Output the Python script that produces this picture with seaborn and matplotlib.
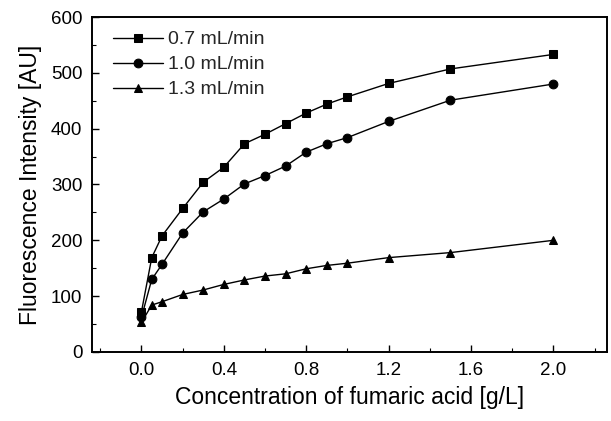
import numpy as np
import pandas as pd
import matplotlib
matplotlib.use("Agg")
import matplotlib.pyplot as plt
from matplotlib.ticker import MultipleLocator, FixedLocator
import seaborn as sns

# Fumaric acid concentration [g/L]
conc = [0.0, 0.05, 0.1, 0.2, 0.3, 0.4, 0.5, 0.6, 0.7, 0.8, 0.9, 1.0, 1.2, 1.5, 2.0]

# Fluorescence intensity [AU] at each flow rate
flow_07 = [72, 169, 208, 257, 304, 331, 373, 390, 409, 428, 444, 457, 481, 507, 533]
flow_10 = [62, 130, 157, 213, 251, 274, 301, 316, 333, 358, 373, 384, 413, 451, 480]
flow_13 = [53, 84, 90, 103, 111, 121, 129, 136, 140, 149, 155, 159, 169, 178, 200]

series_labels = ["0.7 mL/min", "1.0 mL/min", "1.3 mL/min"]
x_ticks = [0.0, 0.4, 0.8, 1.2, 1.6, 2.0]
y_ticks = [0, 100, 200, 300, 400, 500, 600]

df = pd.DataFrame({
    "conc": conc * 3,
    "intensity": flow_07 + flow_10 + flow_13,
    "flow": np.repeat(series_labels, len(conc)),
})

sns.set_theme(style="ticks")
plt.rcParams["font.family"] = ["Liberation Sans", "DejaVu Sans"]

fig = plt.figure(figsize=(6.11, 4.21), dpi=100)
ax = fig.add_axes([0.1506, 0.164, 0.8429, 0.7956])

marker_map = {series_labels[0]: "s", series_labels[1]: "o", series_labels[2]: "^"}
sns.lineplot(
    data=df, x="conc", y="intensity", style="flow", hue="flow",
    palette=["black"] * 3, markers=marker_map, dashes=False,
    markersize=6.3, markeredgecolor="black", linewidth=1.0, ax=ax,
)

ax.set_xlim(-0.24, 2.26)
ax.set_ylim(0, 600)
ax.xaxis.set_major_locator(FixedLocator(x_ticks))
ax.xaxis.set_minor_locator(MultipleLocator(0.2))
ax.yaxis.set_major_locator(FixedLocator(y_ticks))
ax.yaxis.set_minor_locator(MultipleLocator(50))
ax.set_xticklabels([f"{v:.1f}" for v in x_ticks])
ax.set_yticklabels([str(v) for v in y_ticks])

ax.tick_params(which="major", direction="in", length=5, width=1.0, color="black",
               labelsize=13.5, labelcolor="black", pad=7)
ax.tick_params(which="minor", direction="in", length=3, width=0.8, color="black")

for side in ["top", "right", "left", "bottom"]:
    ax.spines[side].set_visible(True)
    ax.spines[side].set_color("black")
    ax.spines[side].set_linewidth(1.4)

ax.set_xlabel("Concentration of fumaric acid [g/L]", fontsize=16.5, color="black", labelpad=5)
ax.set_ylabel("Fluorescence Intensity [AU]", fontsize=16.5, color="black", labelpad=6)

leg = ax.legend(loc="upper left", frameon=False, fontsize=14, handlelength=2.6,
                handletextpad=0.25, labelspacing=0.38, borderaxespad=0.0,
                borderpad=0.0, bbox_to_anchor=(0.04, 0.959))
for h in leg.legend_handles:
    h.set_color("black")
    h.set_markeredgecolor("black")

fig.savefig("out.png", dpi=100)
